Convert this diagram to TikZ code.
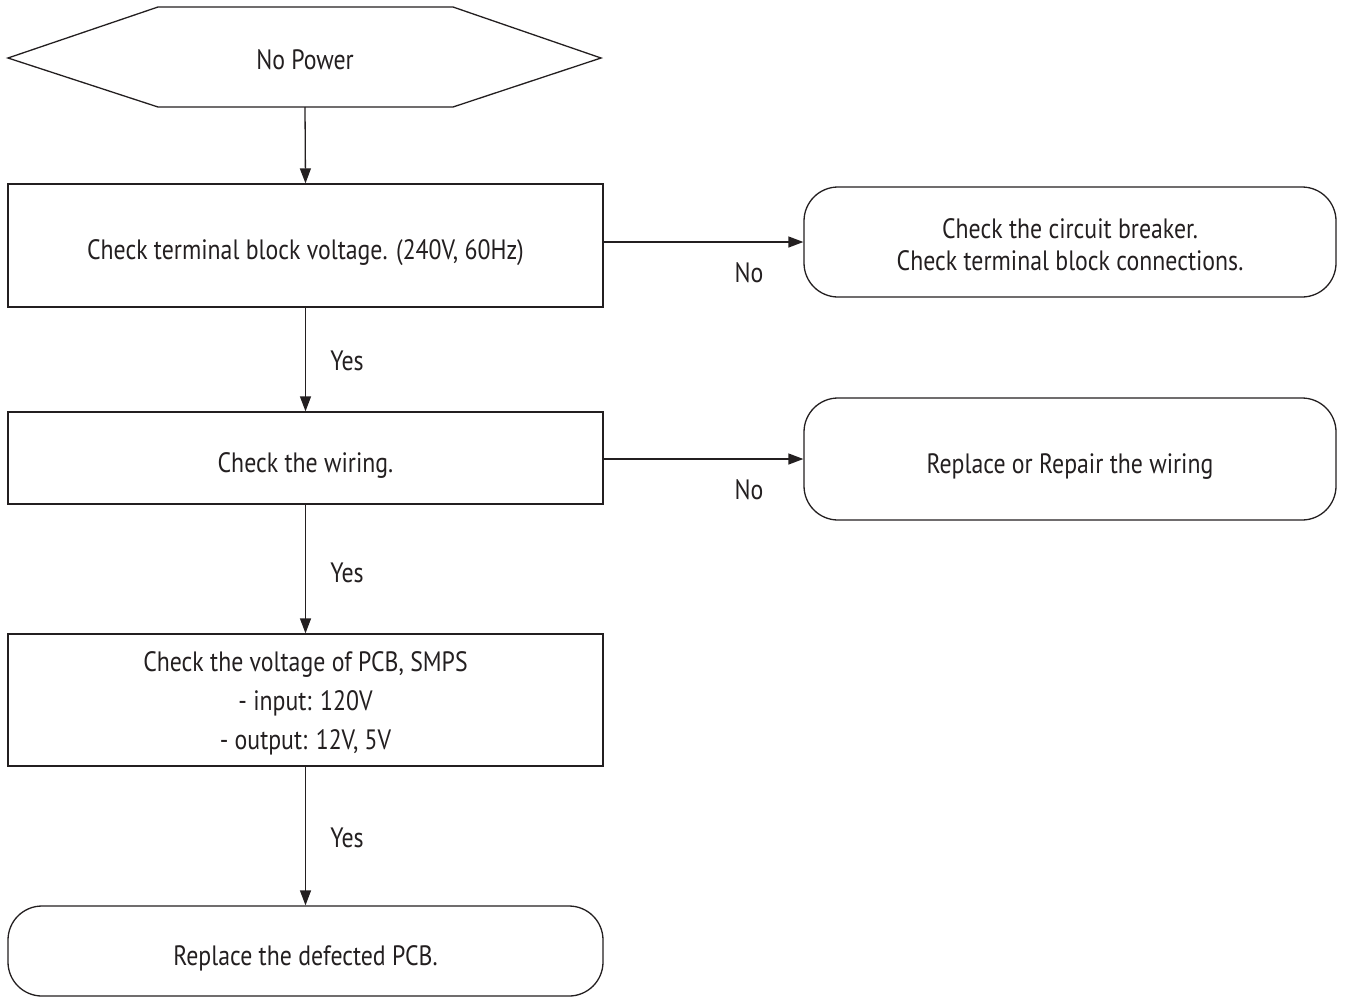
\documentclass[tikz,border=0pt]{standalone}
\usepackage{fontspec}
\setmainfont{PT Sans}[FakeStretch=0.85]
\usetikzlibrary{arrows.meta}
\definecolor{ink}{HTML}{231F20}
\begin{document}
\begin{tikzpicture}[x=1pt,y=-1pt,
  every node/.style={font=\fontsize{28}{32}\selectfont, text=ink},
  oneline/.style={text height=34pt, text depth=6pt},
  box/.style={draw=ink, line width=1.3pt, minimum width=595pt, align=center, inner sep=0pt},
  endbox/.style={box, rounded corners=34pt},
  arr/.style={draw=ink, line width=1.3pt, -{Triangle[length=15pt,width=11pt]}},
  lbl/.style={inner sep=0pt, anchor=base}]
\useasboundingbox (0,0) rectangle (1348,996);

% start terminal (hexagon)
\draw[ink, line width=1.3pt] (8,58) -- (158,7) -- (453,7) -- (601,58) -- (453,107) -- (158,107) -- cycle;
\node[oneline, inner sep=0pt] (start) at (305,55) {No Power};
\coordinate (startb) at (305,107);

% main column of checks
\node[box, oneline, minimum height=123pt] (b1) at (305.5,245.5) {Check terminal block voltage. (240V, 60Hz)};
\node[box, oneline, minimum height=92pt] (b2) at (305.5,458) {Check the wiring.};
\node[box, minimum height=132pt] (b3) at (305.5,700)
  {\rule{0pt}{27pt}Check the voltage of PCB, SMPS\\[7pt] - input: 120V\\[7pt] - output: 12V, 5V};
\node[endbox, oneline, minimum height=90pt] (b4) at (305.5,951) {Replace the defected PCB.};

% outcomes on the right
\node[endbox, minimum width=532pt, minimum height=110pt] (r1) at (1070,242)
  {\rule{0pt}{25pt}Check the circuit breaker.\\Check terminal block connections.};
\node[endbox, oneline, minimum width=532pt, minimum height=122pt] (r2) at (1070,459) {Replace or Repair the wiring};

% connectors
\draw[arr] (startb) -- (b1.north);
\draw[arr] (b1.south) -- (b2.north);
\draw[arr] (b2.south) -- (b3.north);
\draw[arr] (b3.south) -- (b4.north);
\draw[arr] (b1.east |- r1.west) -- (r1.west);
\draw[arr] (b2.east |- r2.west) -- (r2.west);

% branch labels
\node[lbl] (no1) at (749,282) {No};
\node[lbl] (no2) at (749,499) {No};
\node[lbl] (yes1) at (347,370) {Yes};
\node[lbl] (yes2) at (347,582) {Yes};
\node[lbl] (yes3) at (347,847) {Yes};
\end{tikzpicture}
\end{document}
